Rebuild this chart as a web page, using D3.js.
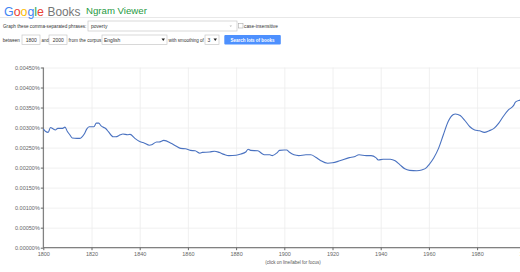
<!DOCTYPE html>
<html>
<head>
<meta charset="utf-8">
<script src="https://cdn.jsdelivr.net/npm/d3@7"></script>
<style>
  body { margin: 0; background: #fff; }
  svg text { font-family: "Liberation Sans", Arial, sans-serif; }
</style>
</head>
<body>
<div id="chart"></div>
<script>
const years = [1800, 1801, 1802, 1803, 1804, 1805, 1806, 1808, 1809, 1810, 1811, 1812, 1814, 1815, 1817, 1818, 1819, 1821, 1822, 1823,
  1824, 1826, 1827, 1829, 1830, 1832, 1833, 1835, 1836, 1838, 1840, 1842, 1844, 1845, 1847, 1848, 1850, 1853, 1855, 1857,
  1859, 1861, 1863, 1865, 1866, 1869, 1871, 1873, 1875, 1877, 1880, 1882, 1884, 1885, 1886, 1889, 1891, 1892, 1894, 1895,
  1897, 1898, 1900, 1901, 1902, 1904, 1906, 1909, 1911, 1913, 1915, 1918, 1920, 1923, 1927, 1929, 1931, 1934, 1936, 1938,
  1939, 1941, 1944, 1946, 1948, 1950, 1952, 1955, 1957, 1959, 1960, 1962, 1964, 1966, 1968, 1970, 1971, 1973, 1975, 1977,
  1979, 1981, 1983, 1985, 1987, 1989, 1991, 1993, 1995, 1996, 1998, 1999, 2000];

// share of "poverty", in percent
const poverty = [0.00297, 0.00290, 0.00288, 0.00300, 0.00297, 0.00294, 0.00298, 0.00298, 0.00301, 0.00290, 0.00282, 0.00274, 0.00273, 0.00273, 0.00284, 0.00296, 0.00302, 0.00302, 0.00311, 0.00311,
  0.00304, 0.00297, 0.00290, 0.00277, 0.00277, 0.00282, 0.00284, 0.00282, 0.00283, 0.00273, 0.00265, 0.00261, 0.00256, 0.00257, 0.00264, 0.00264, 0.00268, 0.00261, 0.00254, 0.00248,
  0.00247, 0.00243, 0.00242, 0.00236, 0.00238, 0.00239, 0.00241, 0.00238, 0.00233, 0.00230, 0.00231, 0.00234, 0.00239, 0.00246, 0.00243, 0.00242, 0.00234, 0.00232, 0.00232, 0.00230,
  0.00237, 0.00243, 0.00244, 0.00244, 0.00239, 0.00232, 0.00230, 0.00232, 0.00232, 0.00226, 0.00218, 0.00211, 0.00212, 0.00217, 0.00225, 0.00227, 0.00232, 0.00230, 0.00230, 0.00225,
  0.00219, 0.00221, 0.00221, 0.00217, 0.00207, 0.00197, 0.00193, 0.00192, 0.00194, 0.00200, 0.00207, 0.00224, 0.00248, 0.00282, 0.00315, 0.00332, 0.00334, 0.00330, 0.00317, 0.00302,
  0.00294, 0.00292, 0.00288, 0.00292, 0.00298, 0.00311, 0.00329, 0.00344, 0.00354, 0.00364, 0.00369, 0.00372, 0.00375];

const xTicks = [1800, 1820, 1840, 1860, 1880, 1900, 1920, 1940, 1960, 1980, 2000];
const yTicks = [0, 0.0005, 0.001, 0.0015, 0.002, 0.0025, 0.003, 0.0035, 0.004, 0.0045];

const logoLetters = ["G", "o", "o", "g", "l", "e"];
const logoColors = ["#4285f4", "#ea4335", "#fbbc05", "#4285f4", "#34a853", "#ea4335"];

const width = 520, height = 272;
const plotLeft = 43.3, plotTop = 67.5, plotBottom = 247.7;

const svg = d3.select("#chart").append("svg")
  .attr("width", width)
  .attr("height", height);

// shrink a text until its real width fits the room it has in the picture
function fit(sel, size, room) {
  sel.attr("font-size", size);
  const w = sel.node().getComputedTextLength();
  if (w > room) sel.attr("font-size", size * room / w);
  return sel;
}

// ---- header ----
svg.append("line")
  .attr("x1", 0).attr("x2", width)
  .attr("y1", 17.5).attr("y2", 17.5)
  .attr("stroke", "#e8e8e8");

const logo = svg.append("text")
  .attr("x", 4).attr("y", 15.5);
logo.selectAll("tspan")
  .data(logoLetters)
  .enter()
  .append("tspan")
  .attr("fill", (d, i) => logoColors[i])
  .text(d => d);
fit(logo, 16, 40);

fit(svg.append("text")
  .attr("x", 47.5).attr("y", 15.5)
  .attr("fill", "#767676")
  .text("Books"), 14, 33);

fit(svg.append("text")
  .attr("x", 86).attr("y", 13.8)
  .attr("fill", "#1f9a43")
  .text("Ngram Viewer"), 10, 61);

// ---- form ----
function label(x, y, txt, room) {
  return fit(svg.append("text")
    .attr("x", x).attr("y", y)
    .attr("fill", "#333")
    .text(txt), 5, room);
}
function box(x, y, w, h) {
  svg.append("rect")
    .attr("x", x).attr("y", y)
    .attr("width", w).attr("height", h)
    .attr("fill", "#fff")
    .attr("stroke", "#c8c8c8")
    .attr("stroke-width", 0.7);
}

label(3, 28, "Graph these comma-separated phrases:", 83.5);
box(88, 21, 149, 10);
label(91, 28.3, "poverty", 19);
svg.append("path").attr("d", "M229.5,25.5 L232,25.5 L230.75,27 Z").attr("fill", "#bbb");
svg.append("rect")
  .attr("x", 238.5).attr("y", 23.5).attr("width", 4.5).attr("height", 4.5)
  .attr("fill", "#fff").attr("stroke", "#aaa").attr("stroke-width", 0.6);
label(244, 28, "case-insensitive", 34);

label(2.7, 41.8, "between", 17);
box(22, 35, 18, 9.5);
label(25.8, 41.8, "1800", 11);
label(41.5, 41.8, "and", 7.5);
box(49, 35, 18, 9.5);
label(52.8, 41.8, "2000", 11);
label(68.5, 41.8, "from the corpus", 33);
box(102, 35, 65, 9.5);
label(104, 41.8, "English", 17);
svg.append("path").attr("d", "M161.5,38.5 L165,38.5 L163.25,41 Z").attr("fill", "#222");
label(168.5, 41.8, "with smoothing of", 35.5);
box(205, 35, 14, 9.5);
label(207.5, 41.8, "3", 3.5);
svg.append("path").attr("d", "M213.5,38.5 L217,38.5 L215.25,41 Z").attr("fill", "#222");

svg.append("rect")
  .attr("x", 224.3).attr("y", 35).attr("width", 56.5).attr("height", 9.5)
  .attr("rx", 1).attr("fill", "#4d90fe");
fit(svg.append("text")
  .attr("x", 252.5).attr("y", 41.6)
  .attr("text-anchor", "middle")
  .attr("font-weight", "bold")
  .attr("fill", "#fff")
  .text("Search lots of books"), 5, 44);

// ---- chart ----
const xScale = d3.scaleLinear()
  .domain([1800, 2000])
  .range([plotLeft, plotLeft + 482]);

const yScale = d3.scaleLinear()
  .domain([0, 0.0045])
  .range([plotBottom, plotTop]);

// grid
svg.append("g")
  .attr("transform", "translate(0," + plotBottom + ")")
  .call(d3.axisBottom(xScale).tickValues(xTicks).tickSize(-(plotBottom - plotTop)).tickFormat(""))
  .call(g => g.select(".domain").remove())
  .call(g => g.selectAll("line").attr("stroke", "#ececec").attr("stroke-width", 0.8));

svg.append("g")
  .attr("transform", "translate(" + plotLeft + ",0)")
  .call(d3.axisLeft(yScale).tickValues(yTicks).tickSize(-(width - plotLeft)).tickFormat(""))
  .call(g => g.select(".domain").remove())
  .call(g => g.selectAll("line").attr("stroke", "#ececec").attr("stroke-width", 0.8));

// axes
const xAxis = d3.axisBottom(xScale)
  .tickValues(xTicks)
  .tickSize(2.5)
  .tickPadding(1.5)
  .tickFormat(d3.format("d"));

const yAxis = d3.axisLeft(yScale)
  .tickValues(yTicks)
  .tickSize(2.5)
  .tickPadding(1)
  .tickFormat(d => d3.format(".5f")(d) + "%");

svg.append("g")
  .attr("id", "x-axis")
  .attr("transform", "translate(0," + plotBottom + ")")
  .call(xAxis)
  .call(g => g.select(".domain").attr("stroke", "#666").attr("d", "M" + plotLeft + ",0H" + (plotLeft + 482)))
  .call(g => g.selectAll("line").attr("stroke", "#666"))
  .call(g => g.selectAll("text").attr("fill", "#666").attr("font-size", 5.5).attr("font-family", "Liberation Sans, Arial, sans-serif"));

svg.append("g")
  .attr("id", "y-axis")
  .attr("transform", "translate(" + plotLeft + ",0)")
  .call(yAxis)
  .call(g => g.select(".domain").attr("stroke", "#666").attr("d", "M0," + plotTop + "V" + plotBottom))
  .call(g => g.selectAll("line").attr("stroke", "#666"))
  .call(g => g.selectAll("text").attr("fill", "#666").attr("font-size", 5.5).attr("font-family", "Liberation Sans, Arial, sans-serif"));

const line = d3.line()
  .x((d, i) => xScale(years[i]))
  .y(d => yScale(d))
  .curve(d3.curveMonotoneX);

svg.append("path")
  .datum(poverty)
  .attr("d", line)
  .attr("fill", "none")
  .attr("stroke", "#4a72c0")
  .attr("stroke-width", 1.1);

svg.append("text")
  .attr("x", 293).attr("y", 263.5)
  .attr("text-anchor", "middle")
  .attr("font-size", 4.5)
  .attr("fill", "#555")
  .text("(click on line/label for focus)");
</script>
</body>
</html>
